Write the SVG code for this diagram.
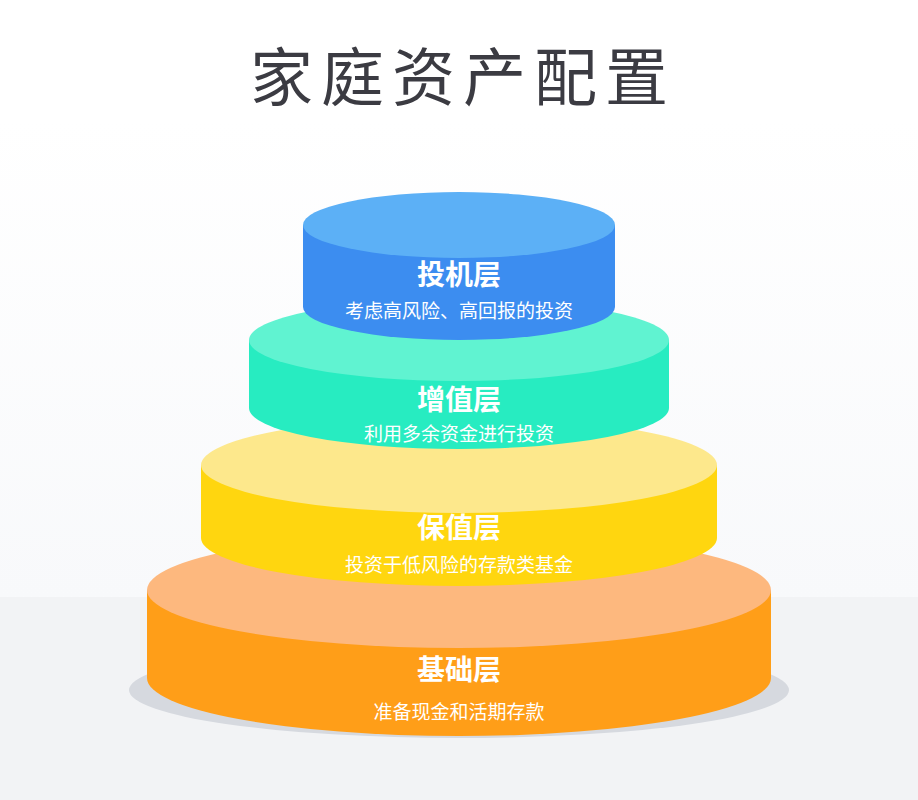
<svg xmlns="http://www.w3.org/2000/svg" width="918" height="800" viewBox="0 0 918 800">
<defs>
<linearGradient id="bg" x1="0" y1="0" x2="0" y2="1">
<stop offset="0" stop-color="#ffffff"/><stop offset="1" stop-color="#f8f9fb"/>
</linearGradient>
<style>
text{font-family:"Noto Sans CJK SC","Noto Sans",sans-serif;text-anchor:middle;fill:#fff}
.h{font-size:28px;font-weight:700}
.s{font-size:19px}
</style>
</defs>
<rect width="918" height="800" fill="#ffffff"/>
<rect y="120" width="918" height="478" fill="url(#bg)"/>
<rect y="597" width="918" height="203" fill="#f2f3f5"/>
<text x="463" y="100" style="font-size:63px;fill:#3b3b42;letter-spacing:8px">家庭资产配置</text>
<g id="base">
<ellipse cx="459" cy="690" rx="330" ry="48" fill="#d6d9df"/>
<path d="M147 590 L147 678 A312 58 0 0 0 771 678 L771 590 Z" fill="#ff9e18"/>
<ellipse cx="459" cy="590" rx="312" ry="58" fill="#fdb87e"/>
<text class="h" x="459" y="680">基础层</text>
<text class="s" x="459" y="719">准备现金和活期存款</text>
</g>
<g id="keep">
<path d="M201 465 L201 538 A258 48 0 0 0 717 538 L717 465 Z" fill="#ffd60f"/>
<ellipse cx="459" cy="465" rx="258" ry="48" fill="#fde88c"/>
<text class="h" x="459" y="538">保值层</text>
<text class="s" x="459" y="572">投资于低风险的存款类基金</text>
</g>
<g id="grow">
<path d="M249 340 L249 408 A210 41 0 0 0 669 408 L669 340 Z" fill="#27ecc1"/>
<ellipse cx="459" cy="340" rx="210" ry="41" fill="#60f3d1"/>
<text class="h" x="459" y="410">增值层</text>
<text class="s" x="459" y="441">利用多余资金进行投资</text>
</g>
<g id="spec">
<path d="M303 225 L303 307 A156 33 0 0 0 615 307 L615 225 Z" fill="#3c8df0"/>
<ellipse cx="459" cy="225" rx="156" ry="33" fill="#5cb0f6"/>
<text class="h" x="459" y="285">投机层</text>
<text class="s" x="459" y="318">考虑高风险、高回报的投资</text>
</g>
<g id="connectors"/>
</svg>
